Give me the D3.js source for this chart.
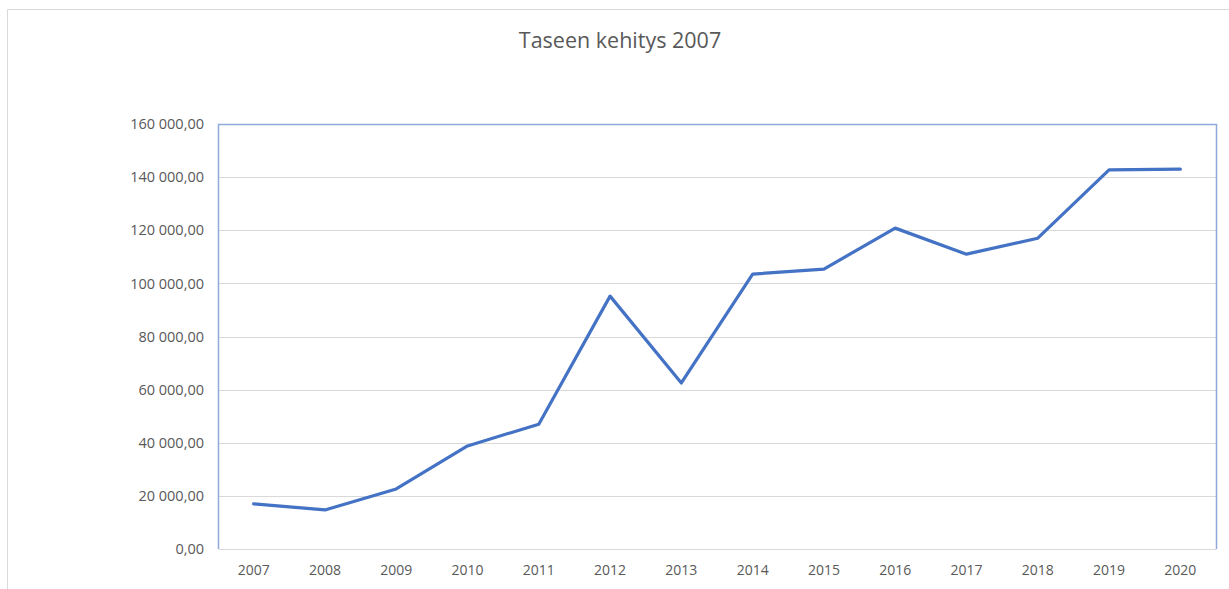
<!DOCTYPE html>
<html><head><meta charset="utf-8">
<script src="https://cdn.jsdelivr.net/npm/d3@7"></script>
<style>
html,body{margin:0;padding:0;background:#fff;}
svg{display:block;}
text{font-family:"Open Sans","Noto Sans",sans-serif;fill:#595959;}
</style></head>
<body>
<svg id="c" width="1229" height="589"></svg>
<script>
const years = ["2007","2008","2009","2010","2011","2012","2013","2014","2015","2016","2017","2018","2019","2020"];
const values = [17000,14700,22600,38800,47000,95200,62500,103500,105400,120800,111000,117000,142700,143000];
const yTicks = [0,20000,40000,60000,80000,100000,120000,140000,160000];
const title = "Taseen kehitys 2007";

const svg = d3.select("#c");
const m = {left:218, top:124, right:1216, bottom:549};

// outer chart frame
svg.append("path").attr("d","M7.5,589 L7.5,9.5 L1229,9.5")
  .attr("fill","none").attr("stroke","#d9d9d9").attr("stroke-width",1);

const x = d3.scaleBand().domain(years).range([m.left,m.right]).padding(0);
const y = d3.scaleLinear().domain([0,160000]).range([m.bottom,m.top]);

const fmt = v => {
  const s = d3.format(",.2f")(v);
  return s.replace(/,/g," ").replace(".",",");
};

// gridlines
svg.append("g").selectAll("line").data(yTicks.filter(d=>d>0 && d<160000)).join("line")
  .attr("x1",m.left).attr("x2",m.right)
  .attr("y1",d=>Math.round(y(d))+0.5).attr("y2",d=>Math.round(y(d))+0.5)
  .attr("stroke","#d9d9d9").attr("stroke-width",1);

// y axis
const ya = svg.append("g").attr("transform",`translate(${m.left},0)`)
  .call(d3.axisLeft(y).tickValues(yTicks).tickFormat(fmt).tickSize(0).tickPadding(14));
ya.select(".domain").remove();
ya.selectAll("text").attr("font-size","14.5px").style("font-family","'Open Sans','Noto Sans',sans-serif").attr("fill","#595959");

// x axis
const xa = svg.append("g").attr("transform",`translate(0,${m.bottom})`)
  .call(d3.axisBottom(x).tickSize(0).tickPadding(16));
xa.select(".domain").attr("stroke","#d9d9d9");
xa.selectAll("text").attr("font-size","14px").style("font-family","'Open Sans','Noto Sans',sans-serif").attr("fill","#595959");

// plot area border (blue, top/left/right)
svg.append("path")
  .attr("d",`M${m.left+0.5},${m.bottom} L${m.left+0.5},${m.top+0.5} L${m.right+0.5},${m.top+0.5} L${m.right+0.5},${m.bottom}`)
  .attr("fill","none").attr("stroke","#8eaadb").attr("stroke-width",1.5);

// line
const line = d3.line().x((d,i)=>x(years[i])+x.bandwidth()/2).y(d=>y(d));
svg.append("path").datum(values).attr("d",line)
  .attr("fill","none").attr("stroke","#4472c4").attr("stroke-width",3.2)
  .attr("stroke-linejoin","round").attr("stroke-linecap","round");

// title
svg.append("text").attr("x",620).attr("y",48).attr("text-anchor","middle")
  .attr("font-size","21.5px").text(title);
</script>
</body></html>
